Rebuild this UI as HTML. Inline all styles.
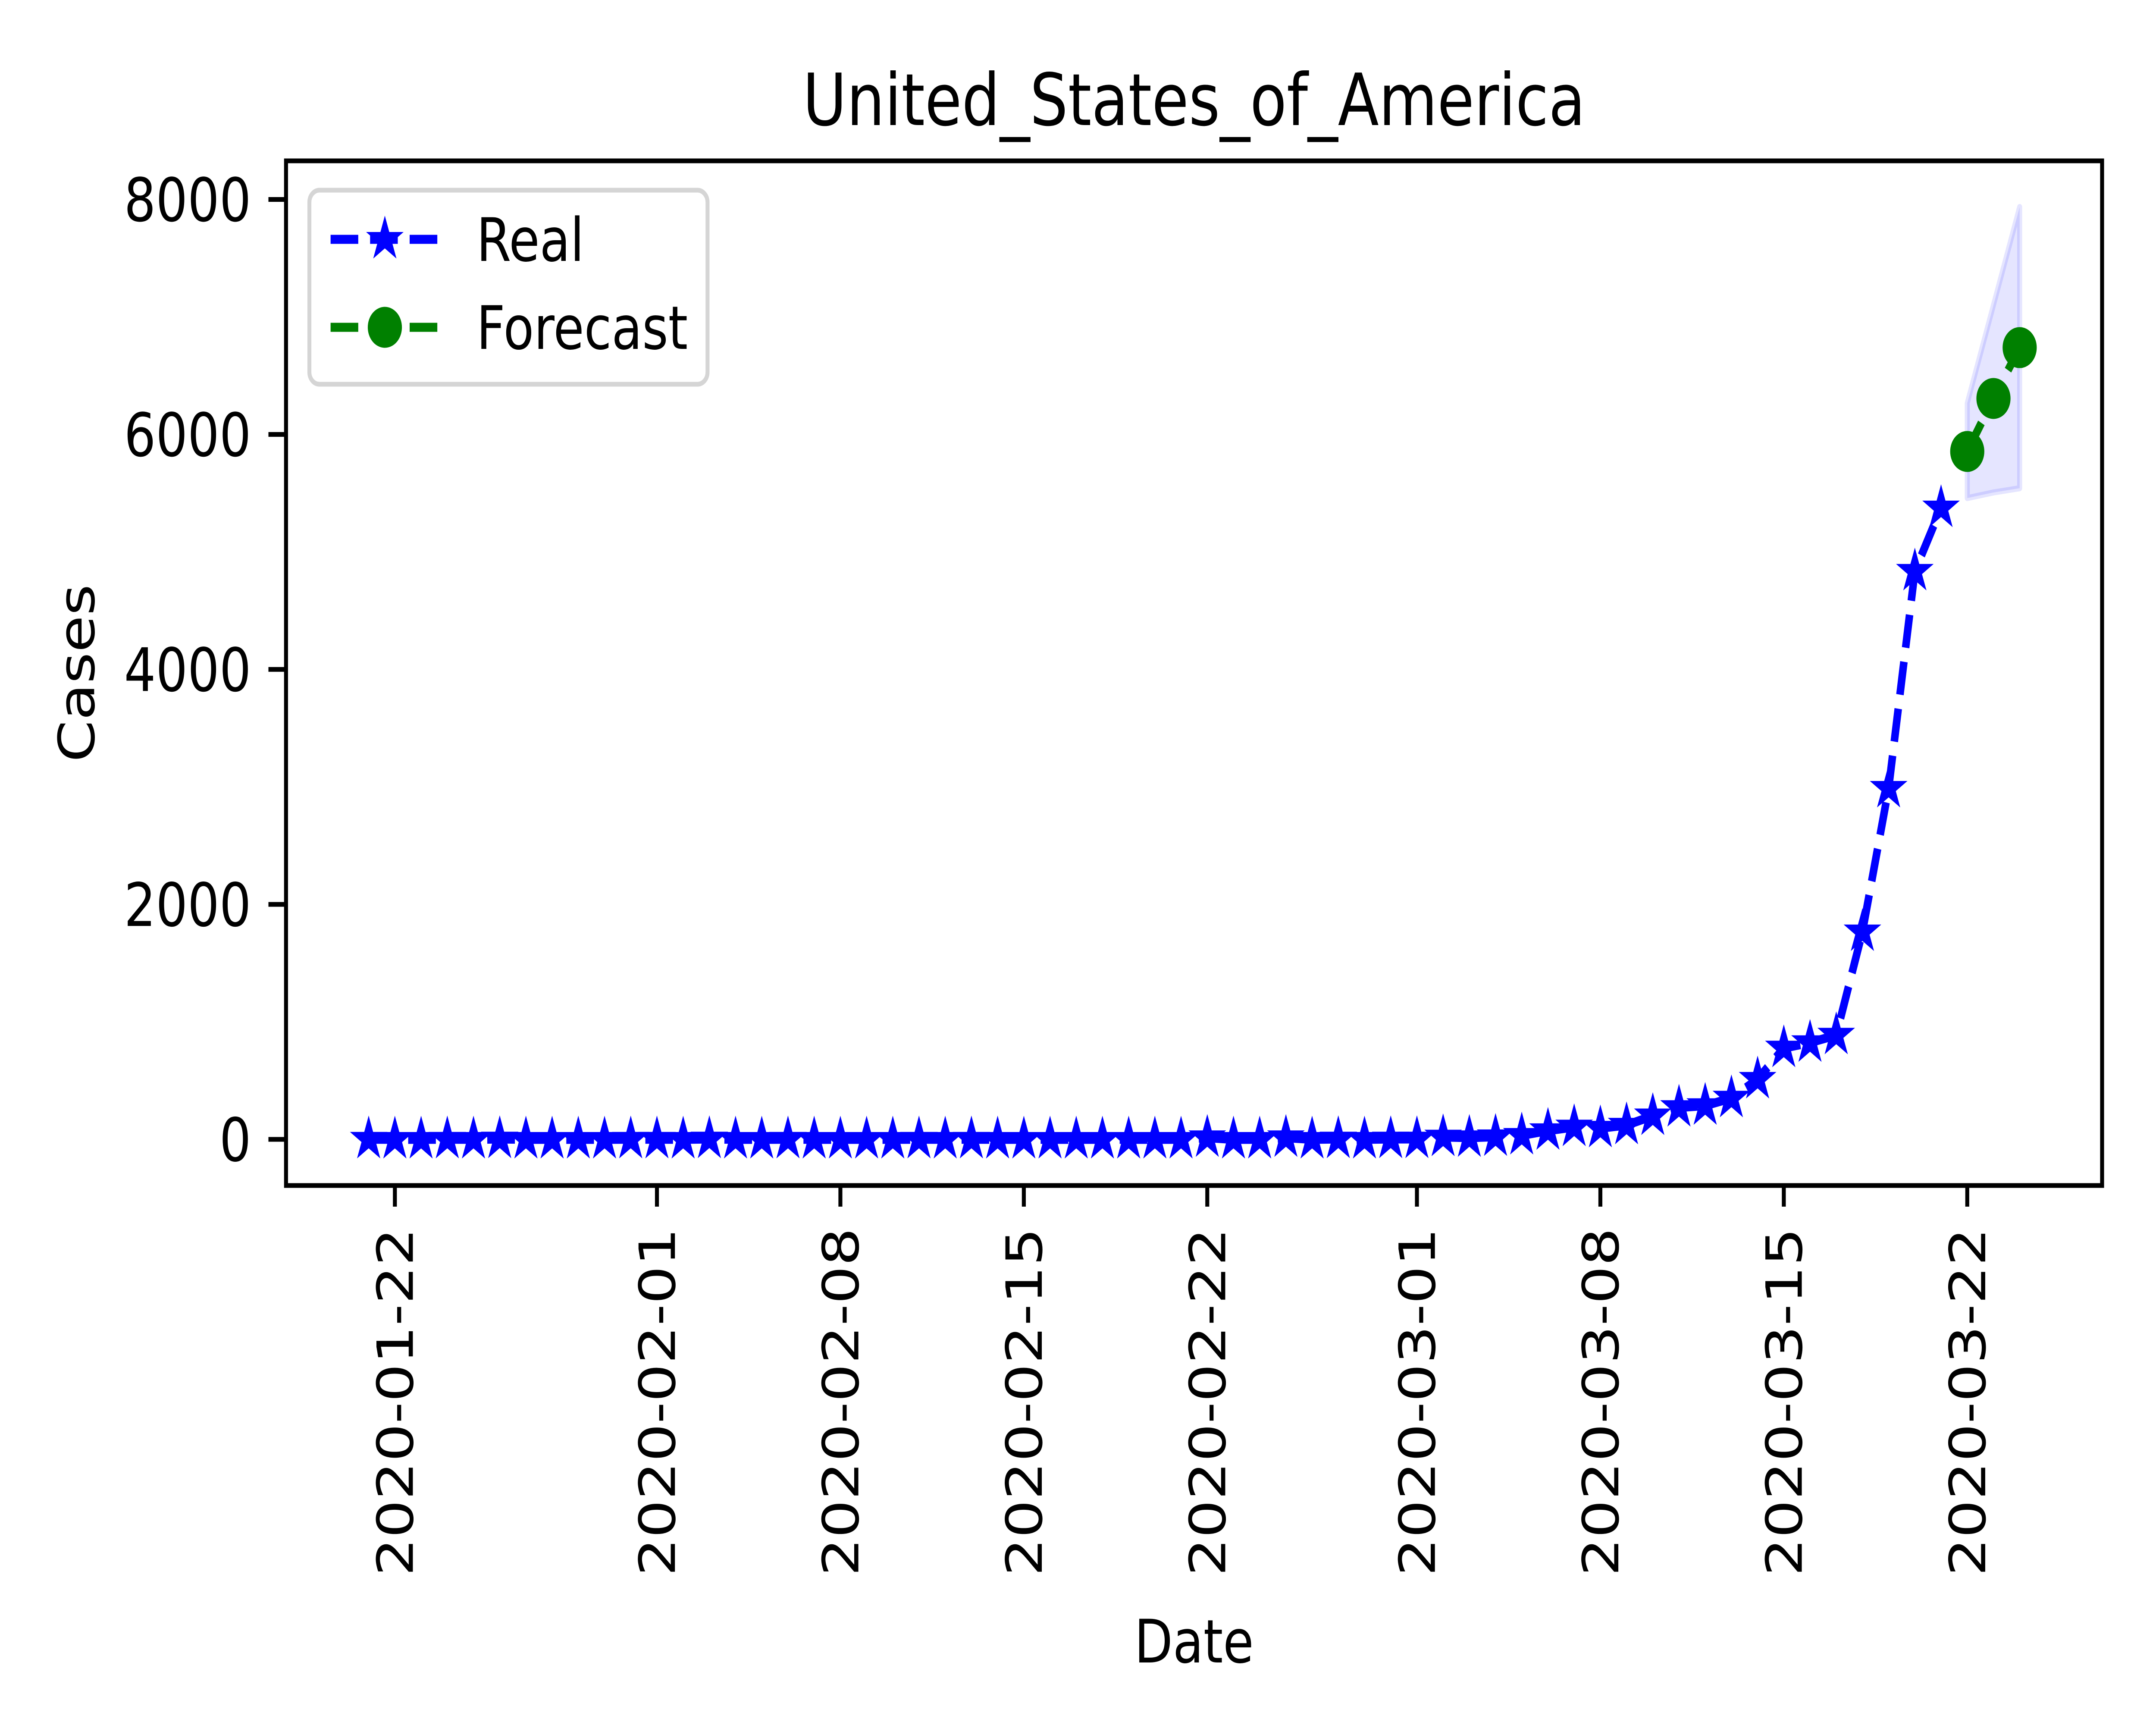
<!DOCTYPE html>
<html><head><meta charset="utf-8"><style>
html,body{margin:0;padding:0;background:#fff;overflow:hidden;width:100%;height:100%;}
svg{display:block;width:100vw;height:100vh;font-family:"DejaVu Sans","Liberation Sans",sans-serif;}
</style></head><body>
<svg id="chart" viewBox="0 0 6000 4000" preserveAspectRatio="none" xmlns="http://www.w3.org/2000/svg">
<rect width="6000" height="4000" fill="#fff"/>
<text x="3323" y="290" font-size="167" text-anchor="middle">United_States_of_America</text>
<g id="band"></g>
<g id="series"></g>
<rect x="796" y="373" width="5054" height="2376" fill="none" stroke="#000" stroke-width="11"/>
<g id="yticks"></g>
<g id="xticks"></g>
<text transform="translate(262,1561) rotate(-90)" font-size="139" text-anchor="middle">Cases</text>
<text x="3323" y="3855" font-size="139" text-anchor="middle">Date</text>
<g>
<rect x="861" y="441" width="1108" height="450" rx="28" fill="#fff" fill-opacity="0.8" stroke="#d5d5d5" stroke-width="11"/>
<g id="legend-items"></g>
</g>
</svg>
<script>
const realDates = ["01-21","01-22","01-23","01-24","01-25","01-26","01-27","01-28","01-29","01-30","01-31",
"02-01","02-02","02-03","02-04","02-05","02-06","02-07","02-08","02-09","02-10","02-11","02-12","02-13","02-14","02-15","02-16","02-17","02-18","02-19","02-20","02-21","02-22","02-23","02-24","02-25","02-26","02-27","02-28","02-29",
"03-01","03-02","03-03","03-04","03-05","03-06","03-07","03-08","03-09","03-10","03-11","03-12","03-13","03-14","03-15","03-16","03-17","03-18","03-19","03-20","03-21"];
const realValues = [1,0,0,1,0,3,0,0,0,0,1,
1,0,3,0,0,1,0,0,0,0,1,0,1,0,0,0,0,0,0,0,0,14,0,0,14,0,3,0,3,
3,20,14,22,34,74,105,95,121,200,271,287,351,511,777,823,887,1766,2988,4835,5374];
const forecastDays = [61,62,63];
const forecastValues = [5855,6306,6739];
const bandUpper = [6266,7101,7936];
const bandLower = [5458,5506,5542];
const yTicks = [0,2000,4000,6000,8000];
const xTickDays = [1,11,18,25,32,40,47,54,61];
const xTickLabels = ["2020-01-22","2020-02-01","2020-02-08","2020-02-15","2020-02-22","2020-03-01","2020-03-08","2020-03-15","2020-03-22"];

const NS="http://www.w3.org/2000/svg";
const X = d => 1026 + d*72.93;
const Y = v => 2642 - v*0.27244;
function mk(tag, attrs, parent){const e=document.createElementNS(NS,tag);for(const k in attrs)e.setAttribute(k,attrs[k]);parent.appendChild(e);return e;}
function starPts(cx,cy,R){const r=R*0.381966;let p=[];for(let i=0;i<10;i++){const a=-Math.PI/2+i*Math.PI/5;const rr=i%2?r:R;p.push((cx+rr*Math.cos(a)).toFixed(1)+","+(cy+rr*Math.sin(a)).toFixed(1));}return p.join(" ");}

const band=document.getElementById('band');
let bp=[];
forecastDays.forEach((d,i)=>bp.push(X(d)+","+Y(bandUpper[i])));
for(let i=forecastDays.length-1;i>=0;i--)bp.push(X(forecastDays[i])+","+Y(bandLower[i]));
const poly=mk('polygon',{points:bp.join(" "),fill:"#0000ff","fill-opacity":"0.1",stroke:"#0000ff","stroke-opacity":"0.1","stroke-width":"14","stroke-linejoin":"round"},band);



const series=document.getElementById('series');
const realLine=mk('polyline',{points:realValues.map((v,i)=>X(i)+","+Y(v)).join(" "),fill:"none",stroke:"#0000ff","stroke-width":"21","stroke-dasharray":"77 33"},series);


const fLine=mk('polyline',{points:forecastValues.map((v,i)=>X(forecastDays[i])+","+Y(v)).join(" "),fill:"none",stroke:"#008000","stroke-width":"21","stroke-dasharray":"77 33"},series);


realValues.forEach((v,i)=>{
  const s=mk('polygon',{points:starPts(X(i),Y(v),42),fill:"#0000ff",stroke:"#0000ff","stroke-width":"8"},series);
  
  
});
forecastValues.forEach((v,i)=>{
  const c=mk('circle',{cx:X(forecastDays[i]),cy:Y(v),r:44,fill:"#008000",stroke:"#008000","stroke-width":"7"},series);
  
  
});

const yg=document.getElementById('yticks');
yTicks.forEach(t=>{
  const l=mk('line',{x1:747,x2:796,y1:Y(t),y2:Y(t),stroke:"#000","stroke-width":"11"},yg);
  
  
  const tx=mk('text',{x:699,y:Y(t)+50,"font-size":"139","text-anchor":"end"},yg);
  tx.textContent=t;
  
  
});
const xg=document.getElementById('xticks');
xTickDays.forEach((d,i)=>{
  const l=mk('line',{x1:X(d),x2:X(d),y1:2749,y2:2798,stroke:"#000","stroke-width":"11"},xg);
  
  
  const tx=mk('text',{transform:"translate("+(X(d)+50)+",2847) rotate(-90)","font-size":"139","text-anchor":"end"},xg);
  tx.textContent=xTickLabels[i];
  
  
});

const lg=document.getElementById('legend-items');
[["Real","#0000ff","star",555],["Forecast","#008000","circle",759]].forEach(([name,col,m,y])=>{
  const l=mk('line',{x1:920,x2:1222,y1:y,y2:y,stroke:col,"stroke-width":"21","stroke-dasharray":"77 33"},lg);
  
  
  let mkr;
  if(m==="star") mkr=mk('polygon',{points:starPts(1071,y,42),fill:col,stroke:col,"stroke-width":"8"},lg);
  else mkr=mk('circle',{cx:1071,cy:y,r:44,fill:col,stroke:col,"stroke-width":"7"},lg);
  
  
  const t=mk('text',{x:1326,y:y+50,"font-size":"139"},lg);
  t.textContent=name;
  
  
});
</script>
</body></html>
